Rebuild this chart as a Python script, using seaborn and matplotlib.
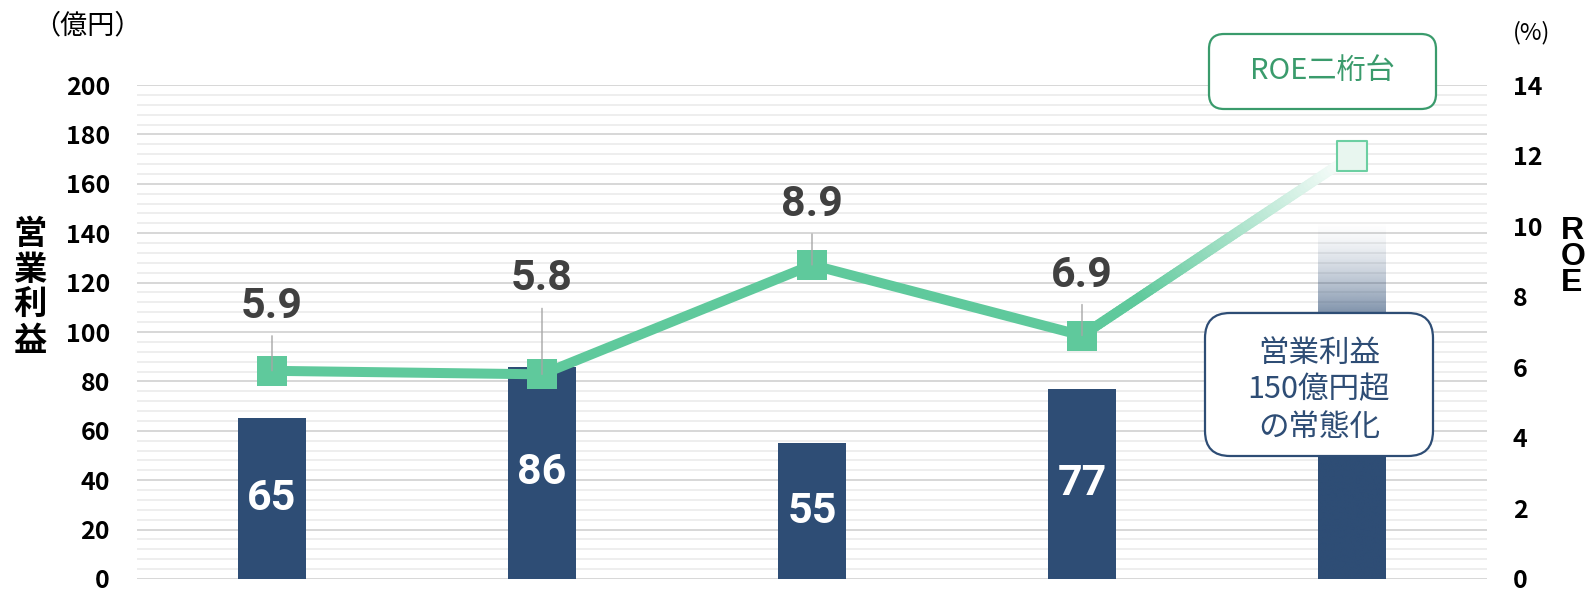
import numpy as np
import pandas as pd
import matplotlib
matplotlib.use("Agg")
import matplotlib.pyplot as plt
import seaborn as sns
from matplotlib.collections import LineCollection
from matplotlib.patches import FancyBboxPatch
from matplotlib.ticker import MultipleLocator
from matplotlib.colors import to_rgb

# ---------------- data ----------------
periods = ["P1", "P2", "P3", "P4", "P5"]
op_profit = [65, 86, 55, 77, 145]          # 営業利益 (億円)
op_labels = ["65", "86", "55", "77", ""]
roe = [5.9, 5.8, 8.9, 6.9, 12.0]           # ROE (%)
roe_labels = ["5.9", "5.8", "8.9", "6.9"]
left_ticks = list(range(0, 201, 20))
right_ticks = list(range(0, 15, 2))

# ---------------- style ----------------
BAR = "#2E4D75"
GREEN = "#5FC99C"
GREEN_DARK = "#3A9B6C"
LABEL_GRAY = "#404040"
label_offsets_px = [53, 84, 49, 49]

sns.set_theme(style="white")
plt.rcParams['font.family'] = ['Noto Sans CJK JP', 'DejaVu Sans']

W, H = 1592, 592
fig = plt.figure(figsize=(W / 100, H / 100), dpi=100)
ax = fig.add_axes([137 / W, 13 / H, 1350 / W, 494 / H])

df = pd.DataFrame({"period": periods, "profit": op_profit})
sns.barplot(data=df, x="period", y="profit", color=BAR, width=0.25,
            saturation=1, edgecolor="none", ax=ax, zorder=2)

# gradient (forecast) bar
last = ax.patches[4]
x0, w, h = last.get_x(), last.get_width(), last.get_height()
last.set_facecolor("none")
n = 300
yy = np.linspace(0, h, n)
alpha = np.clip((h - yy) / 52, 0, 1) ** 1.5
img = np.zeros((n, 1, 4))
img[..., :3] = to_rgb(BAR)
img[..., 3] = alpha[:, None]
ax.imshow(img, extent=[x0, x0 + w, 0, h], origin="lower", aspect="auto",
          zorder=2, interpolation="bilinear")

ax.bar_label(ax.containers[0], labels=op_labels, label_type="center",
             color="white", fontsize=31, fontweight="bold", family="Roboto")

ax.set_ylim(0, 200)
ax.set_yticks(left_ticks)
ax.yaxis.set_minor_locator(MultipleLocator(4))
ax.grid(axis="y", which="major", color="#D4D4D4", lw=1.3)
ax.grid(axis="y", which="minor", color="#EDEDED", lw=1.3)
ax.set_axisbelow(True)
ax.tick_params(axis="y", which="both", length=0, pad=19.5, labelsize=18,
               labelcolor="black")
for t in ax.get_yticklabels():
    t.set_fontweight("bold")
ax.set_xticks([])
ax.set_xlabel("")
ax.set_ylabel("")

# ---------------- ROE line ----------------
ax2 = ax.twinx()
dl = pd.DataFrame({"x": range(4), "roe": roe[:4]})
sns.lineplot(data=dl, x="x", y="roe", color=GREEN, lw=7.2, marker="s",
             markersize=22, markeredgewidth=0, ax=ax2, zorder=3)

# fading segment to target
nseg = 80
tt = np.linspace(0, 1, nseg + 1)
xs = 3 + (4 - 3) * tt
ys = roe[3] + (roe[4] - roe[3]) * tt
pts = np.column_stack([xs, ys]).reshape(-1, 1, 2)
segs = np.concatenate([pts[:-1], pts[1:]], axis=1)
tm = (tt[:-1] + tt[1:]) / 2
a = np.clip(1 - (tm - 0.22) / 0.78, 0.06, 1)
g = np.array(to_rgb(GREEN))
cols = [tuple(g * ai + (1 - ai)) for ai in a]
lc = LineCollection(segs, colors=cols, linewidths=7.2, capstyle="round", zorder=3)
ax2.add_collection(lc)

ax2.scatter([4], [roe[4]], marker="s", s=21.5 ** 2, facecolor="#E8F6EF",
            edgecolor="#6CCFA2", linewidth=1.5, zorder=4)

for i, (lab, off) in enumerate(zip(roe_labels, label_offsets_px)):
    ax2.annotate(lab, xy=(i, roe[i]), xytext=(0, off), textcoords="offset pixels",
                 ha="center", va="baseline", fontsize=31, fontweight="bold",
                 family="Roboto", color=LABEL_GRAY, zorder=5)
    ax2.annotate("", xy=(i, roe[i]), xytext=(0, off - 18), textcoords="offset pixels",
                 arrowprops=dict(arrowstyle="-", color="#A6A6A6", lw=1.0,
                                 shrinkA=0, shrinkB=0), zorder=5)

ax2.set_ylim(0, 14)
ax2.set_yticks(right_ticks)
ax2.tick_params(axis="y", length=0, pad=18.7, labelsize=18, labelcolor="black")
for t in ax2.get_yticklabels():
    t.set_fontweight("bold")
ax2.set_ylabel("")
ax2.set_xlabel("")
ax.set_xlim(-0.5, 4.5)

for a_ in (ax, ax2):
    for s in a_.spines.values():
        s.set_visible(False)

# ---------------- annotations ----------------
tr = fig.dpi_scale_trans
box1 = FancyBboxPatch((1209 / 100, (H - 109) / 100), 227 / 100, 75 / 100,
                      boxstyle="round,pad=0,rounding_size=0.15", transform=tr,
                      fc="white", ec=GREEN_DARK, lw=1.6)
fig.add_artist(box1)
fig.text(1322 / W, 1 - 71 / H, "ROE二桁台", ha="center", va="center",
         fontsize=21, color=GREEN_DARK)

box2 = FancyBboxPatch((1205 / 100, (H - 456) / 100), 228 / 100, 143 / 100,
                      boxstyle="round,pad=0,rounding_size=0.25", transform=tr,
                      fc="white", ec=BAR, lw=1.6)
fig.add_artist(box2)
fig.text(1319 / W, 1 - 390 / H, "営業利益\n150億円超\nの常態化", ha="center",
         va="center", fontsize=22, color=BAR, linespacing=1.25)

fig.text(87 / W, 1 - 26 / H, "（億円）", ha="center", va="center", fontsize=19.5,
         color="black")
fig.text(1532 / W, 1 - 33 / H, "(%)", ha="center", va="center", fontsize=17,
         color="black")
fig.text(30 / W, 1 - 288 / H, "営\n業\n利\n益", ha="center", va="center",
         fontsize=24, fontweight="bold", linespacing=1.1, color="black")
fig.text(1561 / W, 1 - 257 / H, "R\nO\nE", ha="left", va="center",
         fontsize=23, fontweight="bold", family="Liberation Sans",
         linespacing=0.82, color="black")

fig.savefig("out.png", dpi=100)
